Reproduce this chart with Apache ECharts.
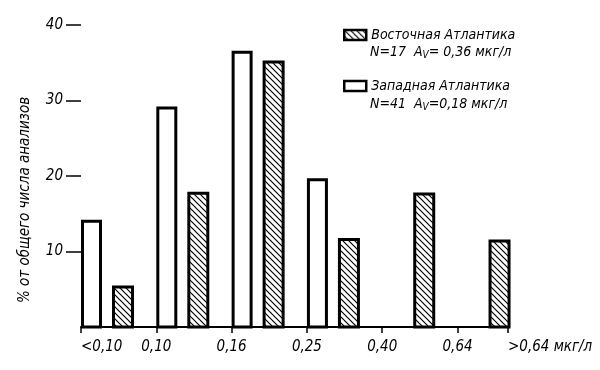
<!DOCTYPE html>
<html>
<head>
<meta charset="utf-8">
<script src="https://cdn.jsdelivr.net/npm/echarts@6/dist/echarts.min.js"></script>
<style>html,body{margin:0;padding:0;background:#fff}#c{width:600px;height:370px}</style>
</head>
<body>
<div id="c"></div>
<script>
// ---- data ----
const binLabels = ['<0,10', '0,10', '0,16', '0,25', '0,40', '0,64', '>0,64 мкг/л'];
const westValues = [14.0, 29.0, 36.4, 19.5, 0, 0];      // Западная Атлантика (white)
const eastValues = [5.3, 17.7, 35.1, 11.6, 17.6, 11.4];  // Восточная Атлантика (hatched)
const yTicks = [10, 20, 30, 40];
const seriesNames = ['Восточная Атлантика', 'Западная Атлантика'];
const seriesNotes = [['N=17  A', 'V', '= 0,36 мкг/л'], ['N=41  A', 'V', '=0,18 мкг/л']];
const xMax = 5.67;

const FONT = '"DejaVu Sans Condensed", "Liberation Sans Narrow", "DejaVu Sans", sans-serif';

// hatch pattern "\\\\"
function makeHatch() {
  const s = 6;
  const cv = document.createElement('canvas');
  cv.width = s; cv.height = s;
  const ctx = cv.getContext('2d');
  ctx.fillStyle = '#fff';
  ctx.fillRect(0, 0, s, s);
  ctx.strokeStyle = '#000';
  ctx.lineWidth = 1.2;
  ctx.beginPath();
  ctx.moveTo(-1, -1); ctx.lineTo(s + 1, s + 1);
  ctx.moveTo(-1 - s, -1); ctx.lineTo(1, s + 1);
  ctx.moveTo(s - 1, -1); ctx.lineTo(2 * s + 1, s + 1);
  ctx.stroke();
  return cv;
}
const hatch = { image: makeHatch(), repeat: 'repeat' };

function barRenderer(offset, width, fill) {
  return function (params, api) {
    const v = api.value(1);
    if (!v) return null;
    const bin = api.value(0);
    const top = api.coord([bin, v]);
    const base = api.coord([bin, 0]);
    return {
      type: 'rect',
      shape: { x: base[0] + offset + 1.5, y: top[1], width: width - 3, height: base[1] - top[1] },
      style: { fill: fill, stroke: '#000', lineWidth: 3 }
    };
  };
}

function noteText(n) {
  return '{a|' + n[0] + '}{s|' + n[1] + '}{a|' + n[2] + '}';
}
const noteRich = {
  a: { fontSize: 14, fontStyle: 'italic', fontFamily: FONT, fill: '#000', lineHeight: 16 },
  s: { fontSize: 10, fontStyle: 'italic', fontFamily: FONT, fill: '#000', verticalAlign: 'bottom', lineHeight: 16, padding: [6, 0, 0, 0] }
};

const chart = echarts.init(document.getElementById('c'), null, { renderer: 'canvas' });
chart.setOption({
  animation: false,
  backgroundColor: '#fff',
  grid: { left: 81, right: 92, top: 25, bottom: 43 },
  xAxis: {
    type: 'value', min: 0, max: xMax,
    splitLine: { show: false },
    axisLine: { show: true, lineStyle: { color: '#000', width: 2 } },
    axisTick: { show: true, length: 6, customValues: [0, 1, 2, 3, 4, 5, xMax], lineStyle: { color: '#000', width: 1.5 } },
    axisLabel: {
      customValues: [0, 1, 2, 3, 4, 5, xMax],
      formatter: function (v) { return v > 5.5 ? binLabels[6] : binLabels[Math.round(v)]; },
      alignMinLabel: 'left', alignMaxLabel: 'left',
      margin: 13, color: '#000', fontSize: 15, fontStyle: 'italic', fontFamily: FONT
    }
  },
  yAxis: {
    type: 'value', min: 0, max: 40,
    splitLine: { show: false },
    axisLine: { show: false },
    axisTick: { show: true, length: 15, customValues: yTicks, lineStyle: { color: '#000', width: 1.5 } },
    axisLabel: { customValues: yTicks, margin: 18, color: '#000', fontSize: 15, fontStyle: 'italic', fontFamily: FONT }
  },
  legend: {
    orient: 'vertical', left: 338, top: 17,
    itemWidth: 22, itemHeight: 10, itemGap: 25,
    selectedMode: false,
    textStyle: { color: '#000', fontSize: 14, fontStyle: 'italic', fontFamily: FONT, lineHeight: 16, padding: [10, 0, 0, 0] },
    data: [
      { name: seriesNames[0], icon: 'rect', itemStyle: { color: hatch, borderColor: '#000', borderWidth: 2.5 } },
      { name: seriesNames[1], icon: 'rect', itemStyle: { color: '#fff', borderColor: '#000', borderWidth: 2.5 } }
    ]
  },
  graphic: [
    {
      type: 'text', x: 25, y: 200, rotation: Math.PI / 2,
      style: { text: '% от общего числа анализов', align: 'center', verticalAlign: 'middle', fill: '#000',
        font: 'italic 15px ' + FONT }
    },
    {
      type: 'text', x: 370, y: 52,
      style: { text: noteText(seriesNotes[0]), verticalAlign: 'middle', rich: noteRich }
    },
    {
      type: 'text', x: 370, y: 104,
      style: { text: noteText(seriesNotes[1]), verticalAlign: 'middle', rich: noteRich }
    }
  ],
  series: [
    {
      name: seriesNames[0], type: 'custom',
      renderItem: barRenderer(31, 22, hatch),
      encode: { x: 0, y: 1 },
      itemStyle: { color: hatch, borderColor: '#000' },
      data: eastValues.map(function (v, i) { return [i, v]; })
    },
    {
      name: seriesNames[1], type: 'custom',
      renderItem: barRenderer(0, 21, '#fff'),
      encode: { x: 0, y: 1 },
      itemStyle: { color: '#fff', borderColor: '#000' },
      data: westValues.map(function (v, i) { return [i, v]; })
    }
  ]
});
</script>
</body>
</html>
